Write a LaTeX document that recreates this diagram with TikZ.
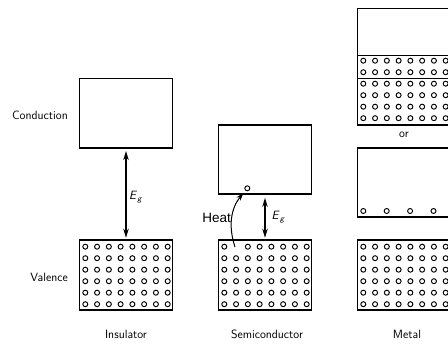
\documentclass[tikz,border=0pt]{standalone}
\usepackage{fontspec}
\newfontfamily\heatfont{Liberation Sans}
\usetikzlibrary{arrows.meta}
\newcommand\egrid[3]{%
  \foreach \i in {0,...,7}{\foreach \j in {0,...,5}{%
    \ifnum\i=#3 \ifnum\j=0 \else
      \draw[elec] ({#1+5.8+\i*11.77},{#2+6.7+\j*11.5}) circle[radius=2.5pt];\fi
    \else
      \draw[elec] ({#1+5.8+\i*11.77},{#2+6.7+\j*11.5}) circle[radius=2.5pt];
    \fi}}}
\begin{document}
\begin{tikzpicture}[x=1pt,y=-1pt,
  band/.style={draw,line width=1.2pt,minimum width=93pt,inner sep=0pt,rectangle},
  lbl/.style={font=\sffamily\fontsize{12}{14}\selectfont,inner sep=0pt},
  elec/.style={line width=0.95pt},
  gap/.style={line width=1.1pt,{Stealth[length=9pt,width=5.5pt]}-{Stealth[length=9pt,width=5.5pt]}}]
\useasboundingbox (0,0) rectangle (448,347);

% Insulator
\node[band,minimum height=69.5pt] (ic) at (126,113.25) {};
\node[band,minimum height=70pt] (iv) at (126,275) {};
\egrid{79.5}{240}{-1}
\draw[gap,shorten <=2.5pt,shorten >=1.7pt] (ic.south) -- (iv.north);
\node[lbl,anchor=west] (ieg) at (129,197) {\textit{E}\textsubscript{\textit{g}}};

% Semiconductor
\node[band,minimum height=69pt] (sc) at (265,159.5) {};
\node[band,minimum height=70pt] (sv) at (265,275) {};
\egrid{218.5}{240}{1}
\node[draw,circle,elec,minimum size=5pt,inner sep=0pt] (e) at (247.3,188.3) {};
\coordinate (hole) at (235,247);
\draw[gap,shorten <=3.3pt,shorten >=1.7pt] (sc.south) -- (sv.north);
\node[lbl,anchor=west] (seg) at (271.5,217) {\textit{E}\textsubscript{\textit{g}}};
\node[font=\heatfont\fontsize{13.5}{15}\selectfont,anchor=east,inner sep=0pt] (heat) at (231,218) {Heat};
\draw[line width=1pt,-{Stealth[length=8pt,width=5pt]},shorten >=3pt] (hole) .. controls (228,226) and (231,208) .. (e);

% Metal
\node[band,minimum height=116.5pt] (mt) at (404,66.75) {};
\draw[line width=1.2pt] (357.5,55.5) -- (451,55.5);
\draw[line width=1.2pt] (357.5,78.5) -- (451,78.5);
\egrid{357.5}{54}{-1}
\node[lbl] (or) at (404,135) {or};
\node[band,minimum height=69pt] (mm) at (404,182.5) {};
\foreach \k in {0,...,3}{\draw[elec] ({363.3+\k*23.4},211) circle[radius=2.5pt];}
\node[band,minimum height=70pt] (mv) at (404,275) {};
\egrid{357.5}{240}{-1}

% Labels
\node[lbl,anchor=east] (cond) at (68,115) {Conduction};
\node[lbl,anchor=east] (val) at (68,277) {Valence};
\node[lbl] (ins) at (126,334) {Insulator};
\node[lbl] (semi) at (267,334) {Semiconductor};
\node[lbl] (met) at (407,334) {Metal};
\end{tikzpicture}
\end{document}
